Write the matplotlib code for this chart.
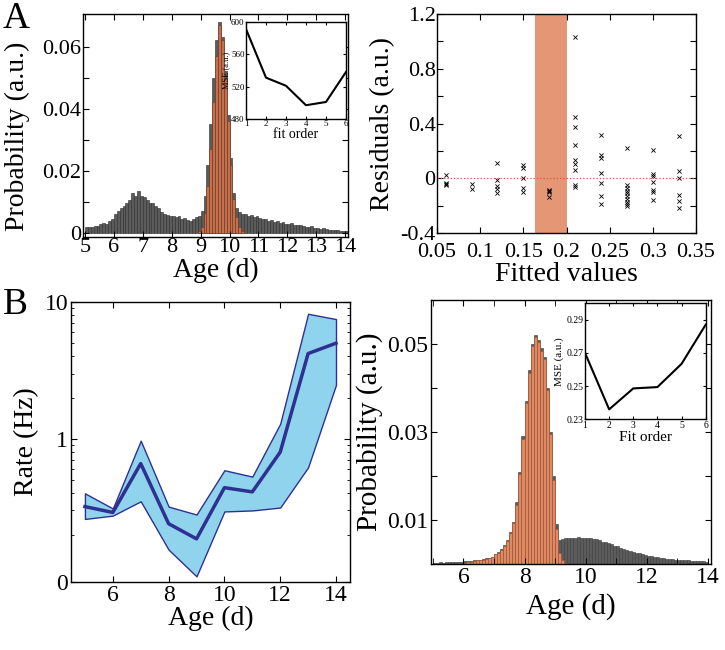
import matplotlib
matplotlib.use('Agg')
import matplotlib.pyplot as plt
import numpy as np

plt.rcParams['font.family'] = ['Liberation Serif', 'DejaVu Serif']
plt.rcParams['xtick.direction'] = 'in'
plt.rcParams['ytick.direction'] = 'in'
plt.rcParams['xtick.top'] = True
plt.rcParams['ytick.right'] = True
plt.rcParams['axes.linewidth'] = 1.0

# ---- panel A left: age histograms (bins of 0.1 d, values x 1e-3)
age_a_start = 5.0
grey_a = [1.8, 2.0, 1.9, 2.1, 2.3, 2.8, 3.1, 3.0, 3.9, 4.6,
          6.0, 7.2, 8.1, 8.6, 9.8, 10.6, 13.0, 11.8, 13.4, 11.9,
          11.6, 10.5, 9.6, 9.8, 8.7, 7.9, 6.8, 6.2, 5.9, 5.5,
          5.4, 5.0, 5.3, 4.6, 4.9, 4.2, 3.9, 4.6, 5.2, 5.4,
          7.0, 12.0, 22.0, 35.0, 50.0, 62.0, 68.0, 63.0, 52.0, 38.0,
          24.0, 13.0, 8.0, 6.8, 6.2, 6.0, 5.6, 5.8, 5.2, 5.4,
          4.8, 4.4, 4.6, 4.0, 4.2, 3.6, 3.8, 3.3, 3.5, 3.0,
          2.9, 3.1, 2.6, 2.4, 2.6, 2.1, 2.0, 1.9, 2.1, 1.6,
          1.5, 1.4, 1.5, 1.2, 1.1, 1.0, 0.9, 0.8, 0.7, 0.6,
          0.5]
orange_a_start = 8.9
orange_a = [0.6, 2.0, 6.5, 15.0, 27.0, 42.0, 57.0, 67.0, 62.0, 50.0,
            36.0, 22.0, 11.0, 5.0, 2.0, 0.6]

# inset A
fit_order = [1, 2, 3, 4, 5, 6]
mse_a = [591, 531, 521, 497, 501, 538]

# ---- panel A right: residuals vs fitted values
fitted = [0.06, 0.06, 0.06, 0.06,
          0.09, 0.09,
          0.12, 0.12, 0.12, 0.12, 0.12,
          0.15, 0.15, 0.15, 0.15, 0.15,
          0.18, 0.18, 0.18, 0.18,
          0.21, 0.21, 0.21, 0.21, 0.21, 0.21, 0.21, 0.21, 0.21,
          0.24, 0.24, 0.24, 0.24, 0.24, 0.24, 0.24,
          0.27, 0.27, 0.27, 0.27, 0.27, 0.27, 0.27, 0.27, 0.27, 0.27,
          0.30, 0.30, 0.30, 0.30, 0.30, 0.30, 0.30,
          0.33, 0.33, 0.33, 0.33, 0.33, 0.33]
residuals = [0.025, -0.035, -0.045, -0.05,
             -0.04, -0.08,
             0.115, -0.01, -0.054, -0.08, -0.105,
             0.10, 0.076, 0.0, -0.07, -0.10,
             -0.088, -0.095, -0.10, -0.14,
             1.034, 0.45, 0.373, 0.24, 0.137, 0.107, 0.063, -0.046, -0.063,
             0.317, 0.17, 0.149, 0.037, -0.037, -0.13, -0.188,
             0.222, -0.05, -0.07, -0.09, -0.11, -0.13, -0.15, -0.17, -0.19, -0.20,
             0.21, 0.034, 0.015, -0.027, -0.085, -0.10, -0.156,
             0.307, 0.054, 0.0, -0.12, -0.166, -0.215]
band = (0.163, 0.20)

# ---- panel B left: rate vs age
age_b = [5, 6, 7, 8, 9, 10, 11, 12, 13, 14]
rate_mean = [0.32, 0.29, 0.66, 0.24, 0.186, 0.44, 0.41, 0.80, 4.2, 5.0]
rate_hi = [0.40, 0.31, 0.97, 0.32, 0.28, 0.59, 0.53, 1.29, 8.2, 7.5]
rate_lo = [0.26, 0.275, 0.35, 0.155, 0.099, 0.295, 0.30, 0.315, 0.62, 2.48]

# ---- panel B right: age histograms (bins of 0.1 d, values x 1e-3)
age_c_start = 5.0
grey_c = [0.3, 0.3, 0.4, 0.3, 0.4, 0.4, 0.5, 0.4, 0.5, 0.5,
          0.6, 0.6, 0.7, 0.8, 0.9, 1.0, 1.1, 1.3, 1.4, 1.7,
          2.3, 2.8, 3.4, 4.3, 5.4, 7.2, 9.5, 14.0, 21.0, 29.0,
          37.0, 44.0, 50.0, 52.0, 51.0, 49.0, 47.0, 40.0, 30.0, 20.0,
          9.0, 5.5, 5.6, 5.8, 5.9, 6.0, 6.0, 6.1, 6.0, 6.0,
          5.9, 5.9, 5.7, 5.6, 5.4, 5.1, 4.9, 4.7, 4.5, 4.2,
          4.0, 3.7, 3.5, 3.2, 3.0, 2.8, 2.6, 2.4, 2.2, 2.0,
          1.9, 1.8, 1.6, 1.5, 1.4, 1.3, 1.2, 1.1, 1.1, 1.0,
          0.9, 0.9, 0.8, 0.8, 0.7, 0.7, 0.7, 0.6, 0.6, 0.5]
orange_c_start = 6.0
orange_c = [0.3, 0.4, 0.5, 0.6, 0.8, 0.9, 1.0, 1.2, 1.4, 1.6,
            2.2, 2.6, 3.2, 4.1, 5.2, 7.0, 9.3, 13.5, 20.5, 28.5,
            36.5, 43.5, 49.5, 51.5, 50.5, 48.5, 46.5, 39.5, 29.5, 19.0,
            8.0, 2.5, 0.8, 0.2]

# inset B
mse_b = [0.270, 0.236, 0.2486, 0.2494, 0.2634, 0.287]

binw = 0.1
grey = '#5b5b5b'
grey_edge = '#2a2a2a'

fig = plt.figure(figsize=(7.25, 6.5), dpi=100)

# ---------------- A left
ax1 = fig.add_axes([0.1145, 0.6354, 0.3655, 0.3431])
x = age_a_start + binw * np.arange(len(grey_a))
ax1.bar(x, np.array(grey_a) * 1e-3, width=binw, align='edge',
        color=grey, edgecolor=grey_edge, linewidth=0.4)
x = orange_a_start + binw * np.arange(len(orange_a))
ax1.bar(x, np.array(orange_a) * 1e-3, width=binw, align='edge',
        color='#c4704c', edgecolor='#6e3520', linewidth=0.4)
ax1.set_xlim(4.93, 14.1)
ax1.set_ylim(-0.0013, 0.0705)
ax1.set_xticks(range(5, 15))
ax1.set_yticks([0, 0.01, 0.02, 0.03, 0.04, 0.05, 0.06])
ax1.set_yticklabels(['0', '', '0.02', '', '0.04', '', '0.06'])
ax1.tick_params(labelsize=16, length=4, pad=1)
ax1.set_xlabel('Age (d)', fontsize=20, labelpad=0)
ax1.set_ylabel('Probability (a.u.)', fontsize=20)
ax1.yaxis.set_label_coords(-0.2, 0.45)

ins1 = fig.add_axes([0.3393, 0.8169, 0.1379, 0.1497])
ins1.plot(fit_order, mse_a, color='black', linewidth=1.5)
ins1.set_xlim(1, 6)
ins1.set_ylim(480, 600)
ins1.set_xticks(fit_order)
ins1.set_yticks([480, 520, 560, 600])
ins1.tick_params(labelsize=6.5, length=2, pad=1)
ins1.set_xlabel('fit order', fontsize=10, labelpad=0)
ins1.set_ylabel('MSE (a.u.)', fontsize=6, labelpad=1)

# ---------------- A right
ax2 = fig.add_axes([0.6028, 0.6415, 0.3572, 0.3369])
ax2.axvspan(band[0], band[1], color='#e4906d', alpha=0.95, linewidth=0)
ax2.axhline(0, color='#e05050', linestyle=':', linewidth=0.9)
ax2.scatter(fitted, residuals, marker='x', s=9, color='black', linewidths=0.6, zorder=3)
ax2.set_xlim(0.05, 0.35)
ax2.set_ylim(-0.4, 1.2)
ax2.set_xticks([0.05, 0.1, 0.15, 0.2, 0.25, 0.3, 0.35])
ax2.set_xticklabels(['0.05', '0.1', '0.15', '0.2', '0.25', '0.3', '0.35'])
ax2.set_yticks([-0.4, -0.2, 0, 0.2, 0.4, 0.6, 0.8, 1.0, 1.2])
ax2.set_yticklabels(['-0.4', '', '0', '', '0.4', '', '0.8', '', '1.2'])
ax2.tick_params(labelsize=16, length=4, pad=1)
ax2.tick_params(axis='x', pad=7)
ax2.set_xlabel('Fitted values', fontsize=20, labelpad=0)
ax2.set_ylabel('Residuals (a.u.)', fontsize=20, labelpad=4)

# ---------------- B left
ax3 = fig.add_axes([0.0979, 0.1046, 0.3848, 0.4308])
ax3.fill_between(age_b, rate_lo, rate_hi, facecolor='#8fd4ec',
                 edgecolor='#2e3192', linewidth=1.0)
ax3.plot(age_b, rate_mean, color='#2e3192', linewidth=2.5)
ax3.set_yscale('log')
ax3.set_xlim(4.5, 14.5)
ax3.set_ylim(0.09, 10)
ax3.set_xticks([6, 8, 10, 12, 14])
ax3.set_yticks([0.09, 1, 10])
ax3.set_yticklabels(['0', '1', '10'])
ax3.yaxis.set_minor_formatter(matplotlib.ticker.NullFormatter())
ax3.tick_params(labelsize=17, length=4, pad=2)
ax3.tick_params(which='minor', length=2)
ax3.set_xlabel('Age (d)', fontsize=20, labelpad=0)
ax3.set_ylabel('Rate (Hz)', fontsize=20, labelpad=4)

# ---------------- B right
ax4 = fig.add_axes([0.5945, 0.1323, 0.3862, 0.4062])
x = age_c_start + binw * np.arange(len(grey_c))
ax4.bar(x, np.array(grey_c) * 1e-3, width=binw, align='edge',
        color=grey, edgecolor='#3a3a3a', linewidth=0.4)
x = orange_c_start + binw * np.arange(len(orange_c))
ax4.bar(x, np.array(orange_c) * 1e-3, width=binw, align='edge',
        color='#df8a62', edgecolor='#9c5035', linewidth=0.4)
ax4.set_xlim(4.94, 14.1)
ax4.set_ylim(0, 0.06)
ax4.set_xticks([6, 8, 10, 12, 14])
ax4.set_xticks([5, 7, 9, 11, 13], minor=True)
ax4.set_yticks([0.01, 0.02, 0.03, 0.04, 0.05])
ax4.set_yticklabels(['0.01', '', '0.03', '', '0.05'])
ax4.tick_params(labelsize=17, length=4, pad=2)
ax4.tick_params(which='minor', length=4)
ax4.set_xlabel('Age (d)', fontsize=21, labelpad=4)
ax4.set_ylabel('Probability (a.u.)', fontsize=21, labelpad=3)

ins2 = fig.add_axes([0.8069, 0.3549, 0.1665, 0.1789])
ins2.plot(fit_order, mse_b, color='black', linewidth=1.5)
ins2.set_xlim(1, 6)
ins2.set_ylim(0.23, 0.30)
ins2.set_xticks(fit_order)
ins2.set_yticks([0.23, 0.25, 0.27, 0.29])
ins2.set_yticklabels(['0.23', '0.25', '0.27', '0.29'])
ins2.tick_params(labelsize=7, length=2, pad=1)
ins2.set_xlabel('Fit order', fontsize=11, labelpad=1)
ins2.set_ylabel('MSE (a.u.)', fontsize=8, labelpad=2)

fig.text(0.004, 0.998, 'A', fontsize=27, va='top', ha='left')
fig.text(0.004, 0.557, 'B', fontsize=27, va='top', ha='left')

fig.savefig('out.png', dpi=100)
